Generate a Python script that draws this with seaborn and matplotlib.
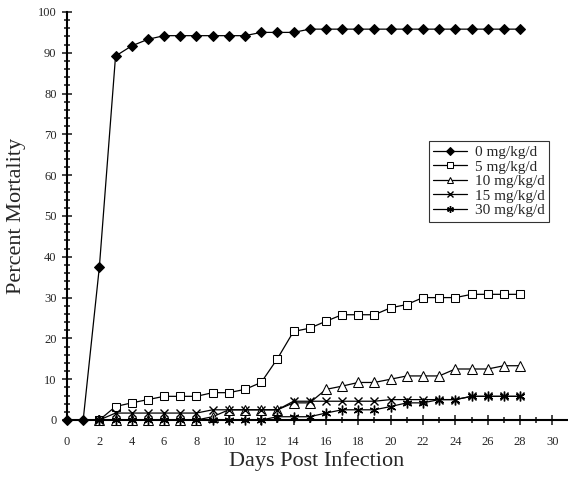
import numpy as np
import pandas as pd
import matplotlib
matplotlib.use("Agg")
import matplotlib.pyplot as plt
from matplotlib.ticker import MultipleLocator
import seaborn as sns

# --- datos ---
dias_0 = list(range(0, 29))
mort_0 = [0, 0, 37.5, 89.2, 91.7, 93.3, 94.2, 94.2, 94.2, 94.2, 94.2, 94.2,
          95.0, 95.0, 95.0, 95.8, 95.8, 95.8, 95.8, 95.8, 95.8, 95.8, 95.8,
          95.8, 95.8, 95.8, 95.8, 95.8, 95.8]

dias = list(range(2, 29))
mort_5 = [0, 3.3, 4.2, 5.0, 5.8, 5.8, 5.8, 6.7, 6.7, 7.5, 9.2, 15.0, 21.7,
          22.5, 24.2, 25.8, 25.8, 25.8, 27.5, 28.3, 30.0, 30.0, 30.0, 30.8,
          30.8, 30.8, 30.8]
mort_10 = [0, 0, 0, 0, 0, 0, 0, 0.8, 2.5, 2.5, 2.5, 2.5, 4.2, 4.2, 7.5, 8.3,
           9.2, 9.2, 10.0, 10.8, 10.8, 10.8, 12.5, 12.5, 12.5, 13.3, 13.3]
mort_15 = [0, 1.7, 1.7, 1.7, 1.7, 1.7, 1.7, 2.5, 2.5, 2.5, 2.5, 2.5, 4.6, 4.6,
           4.6, 4.6, 4.6, 4.6, 5.0, 5.0, 5.0, 5.0, 5.0, 5.8, 5.8, 5.8, 5.8]
mort_30 = [0, 0, 0, 0, 0, 0, 0, 0, 0, 0, 0, 0.8, 0.8, 0.8, 1.7, 2.5, 2.5,
           2.5, 3.3, 4.2, 4.2, 5.0, 5.0, 5.8, 5.8, 5.8, 5.8]

etiquetas = ["0 mg/kg/d", "5 mg/kg/d", "10 mg/kg/d", "15 mg/kg/d", "30 mg/kg/d"]

# --- estilo ---
sns.set_style("ticks")
plt.rcParams["font.family"] = ["Liberation Serif", "DejaVu Serif"]

fig = plt.figure(figsize=(5.68, 4.83), dpi=100)
ax = fig.add_axes([67 / 568, 1 - 420 / 483, 500 / 568, 408 / 483])

series = [
    (dias_0, mort_0, dict(marker="D", markersize=5.5, markerfacecolor="black")),
    (dias, mort_5, dict(marker="s", markersize=6, markerfacecolor="white")),
    (dias, mort_10, dict(marker="^", markersize=6.5, markerfacecolor="white")),
    (dias, mort_15, dict(marker="x", markersize=6, markeredgewidth=1.0)),
    (dias, mort_30, dict(marker=(6, 2, 0), markersize=7, markeredgewidth=1.0)),
]

for (x, y, estilo), lab in zip(series, etiquetas):
    df = pd.DataFrame({"dia": x, "mort": y})
    sns.lineplot(data=df, x="dia", y="mort", ax=ax, color="black", lw=0.9,
                 markeredgecolor="black", label=lab, clip_on=False, **estilo)

ax.set_xlim(0, 30.9)
ax.set_ylim(0, 100)
ax.xaxis.set_major_locator(MultipleLocator(2))
ax.xaxis.set_minor_locator(MultipleLocator(1))
ax.yaxis.set_major_locator(MultipleLocator(10))
ax.yaxis.set_minor_locator(MultipleLocator(2))
ax.tick_params(axis="y", which="both", direction="inout", width=1.2,
               labelsize=9, pad=4)
ax.tick_params(axis="y", which="major", length=7)
ax.tick_params(axis="y", which="minor", length=5)
ax.tick_params(axis="x", which="both", direction="inout", width=1.2,
               labelsize=9, pad=8)
ax.tick_params(axis="x", which="major", length=7)
ax.tick_params(axis="x", which="minor", length=5)

for s in ["left", "bottom"]:
    ax.spines[s].set_linewidth(1.5)
    ax.spines[s].set_color("black")
sns.despine(ax=ax)

ax.set_xlabel("Days Post Infection", fontsize=16)
ax.set_ylabel("Percent Mortality", fontsize=16)
ax.xaxis.set_label_coords(0.5, -0.1)
ax.yaxis.set_label_coords(-0.1, 0.5)
ax.xaxis.label.set_va("center")
ax.yaxis.label.set_va("center")

leg = ax.legend(loc="upper right", bbox_to_anchor=(0.964, 0.684),
                borderaxespad=0, fontsize=11, frameon=True, fancybox=False,
                edgecolor="black", handlelength=2.2, labelspacing=0.05,
                handletextpad=0.5, borderpad=0.3, markerscale=0.7)
leg.get_frame().set_linewidth(0.8)

fig.savefig("out.png", dpi=100)
